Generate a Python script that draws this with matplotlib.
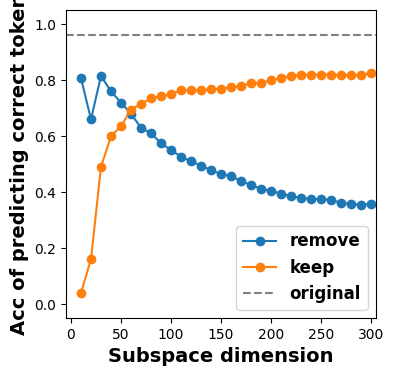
import matplotlib
matplotlib.use("Agg")
import matplotlib.pyplot as plt

dims = list(range(10, 301, 10))
acc_remove = [0.807, 0.66, 0.815, 0.76, 0.72, 0.68, 0.63, 0.61, 0.575, 0.55,
              0.527, 0.51, 0.495, 0.478, 0.465, 0.457, 0.44, 0.425, 0.412, 0.405,
              0.395, 0.385, 0.38, 0.375, 0.375, 0.372, 0.362, 0.358, 0.355, 0.358]
acc_keep = [0.04, 0.16, 0.49, 0.60, 0.635, 0.695, 0.715, 0.735, 0.742, 0.75,
            0.763, 0.763, 0.763, 0.767, 0.77, 0.775, 0.778, 0.79, 0.79, 0.80,
            0.807, 0.815, 0.818, 0.82, 0.82, 0.82, 0.818, 0.818, 0.818, 0.825]
acc_original = 0.96

fig = plt.figure(figsize=(3.94, 3.76), dpi=100)
ax = fig.add_axes([0.1675, 0.154, 0.7865, 0.819])

ax.plot(dims, acc_remove, marker='o', label='remove')
ax.plot(dims, acc_keep, marker='o', label='keep')
ax.axhline(acc_original, color='gray', linestyle='--', label='original')

ax.set_xlim(-5, 305)
ax.set_ylim(-0.05, 1.05)
ax.set_xlabel('Subspace dimension', fontsize=14, fontweight='bold')
ax.set_ylabel('Acc of predicting correct token', fontsize=14, fontweight='bold')
ax.legend(prop={'weight': 'bold', 'size': 12}, loc='lower right')

fig.savefig('out.png', dpi=100)
